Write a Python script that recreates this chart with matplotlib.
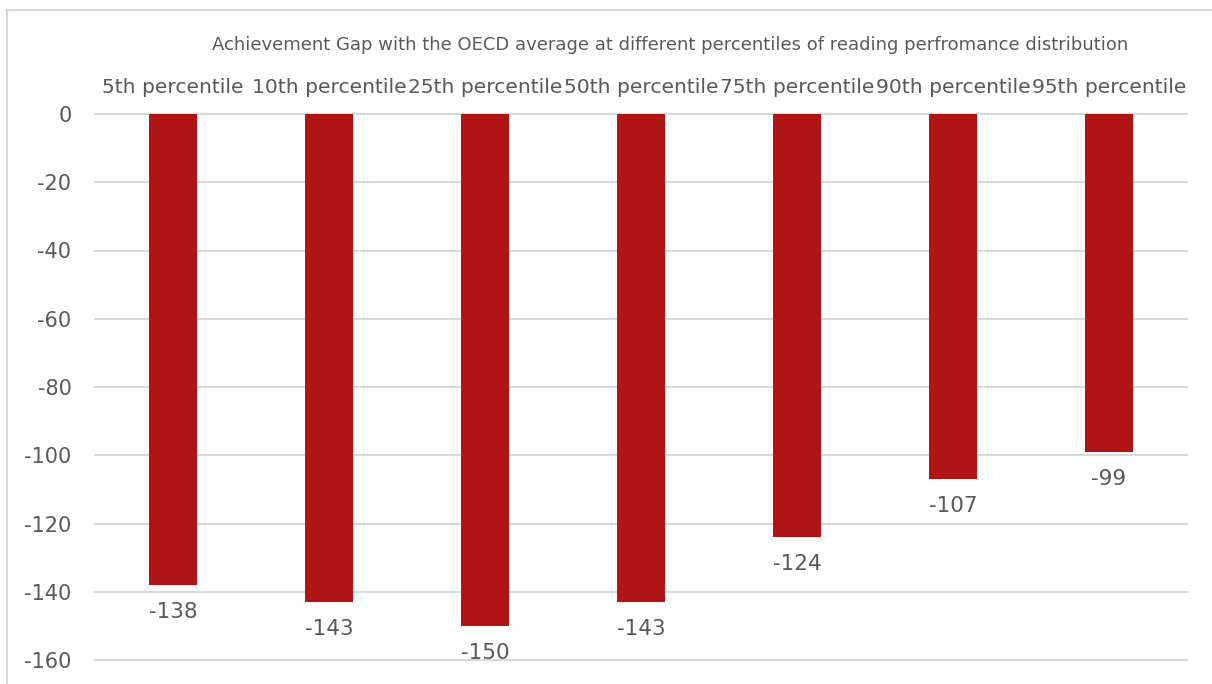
import matplotlib
matplotlib.use("Agg")
import matplotlib.pyplot as plt
from matplotlib.patches import Rectangle

categories = ["5th percentile", "10th percentile", "25th percentile", "50th percentile",
              "75th percentile", "90th percentile", "95th percentile"]
gap = [-138, -143, -150, -143, -124, -107, -99]
yticks = [0, -20, -40, -60, -80, -100, -120, -140, -160]

text_color = "#595959"
bar_color = "#B01515"
grid_color = "#D9D9D9"

plt.rcParams["font.family"] = ["DejaVu Sans"]

fig = plt.figure(figsize=(12.12, 6.84), dpi=100)
# chart frame, running off the right and bottom edges
fig.patches.append(Rectangle((7 / 1212, -0.1), 1.2, 1 - 10 / 684 + 0.1,
                             transform=fig.transFigure, fill=False,
                             edgecolor=grid_color, linewidth=1.5))

ax = fig.add_axes([95 / 1212, 1 - 660 / 684, 1092 / 1212, 546 / 684])
x = range(len(categories))
ax.bar(x, gap, width=0.31, color=bar_color, zorder=2)

for xi, v in zip(x, gap):
    ax.annotate(str(v), (xi, v), xytext=(0, -12), textcoords="offset points",
                ha="center", va="top", fontsize=15.5, color=text_color)

ax.set_xlim(-0.5, len(categories) - 0.5)
ax.set_ylim(-160, 0)
ax.set_yticks(yticks)
ax.set_yticklabels([str(t) for t in yticks])
ax.yaxis.grid(True, color=grid_color, linewidth=1.5, zorder=0)
for gl in ax.get_ygridlines():
    gl.set_clip_on(False)
ax.set_axisbelow(True)

ax.xaxis.tick_top()
ax.set_xticks(list(x))
ax.set_xticklabels(categories, fontsize=14.6)
ax.tick_params(axis="both", length=0, labelcolor=text_color)
ax.tick_params(axis="y", pad=17, labelsize=15)
ax.tick_params(axis="x", pad=12)
for s in ax.spines.values():
    s.set_visible(False)

fig.text(670 / 1212, 1 - 45 / 684, "Achievement Gap with the OECD average at different percentiles of reading perfromance distribution",
         ha="center", va="center", fontsize=13, color=text_color)

fig.savefig("out.png", dpi=100)
